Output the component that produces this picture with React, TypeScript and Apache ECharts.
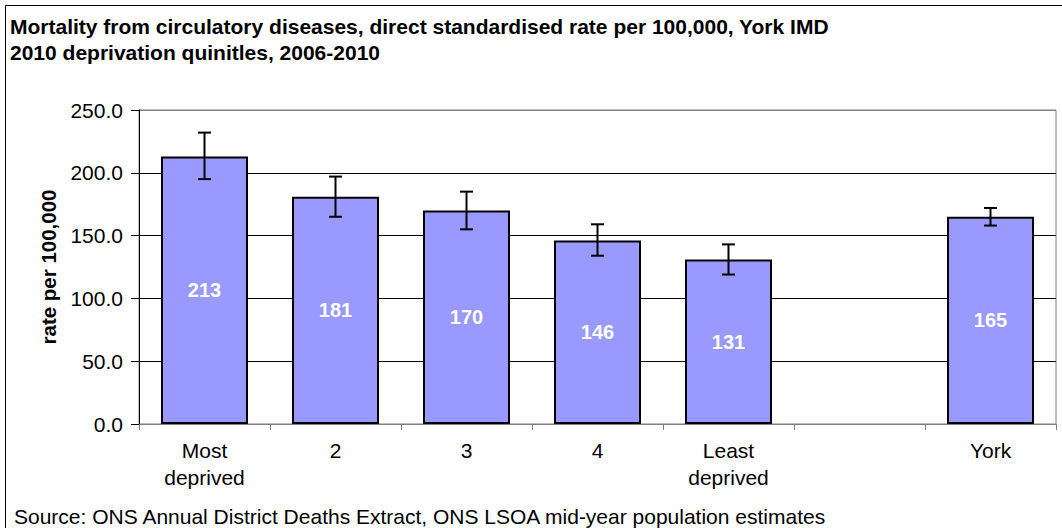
import React, { useEffect, useRef } from "react";
import * as echarts from "echarts";

const categories = ["Most\ndeprived", "2", "3", "4", "Least\ndeprived", "", "York"];
const rates = [213, 181, 170, 146, 131, null, 165];
const lowerCI = [195, 165, 155, 134, 119, null, 158];
const upperCI = [232, 197, 185, 159, 143, null, 172];
const yTicks = { min: 0, max: 250, interval: 50 };

const titleText =
  "Mortality from circulatory diseases, direct standardised rate per 100,000, York IMD\n2010 deprivation quinitles, 2006-2010";
const sourceText =
  "Source: ONS Annual District Deaths Extract, ONS LSOA mid-year population estimates";

const FONT = "'Liberation Sans', Arial, sans-serif";

export default function App() {
  const ref = useRef<HTMLDivElement>(null);
  useEffect(() => {
    if (!ref.current) return;
    const chart = echarts.init(ref.current, null, { renderer: "svg" });
    const errData: any[] = [];
    categories.forEach((_, i) => {
      if (lowerCI[i] != null && upperCI[i] != null) errData.push([i, lowerCI[i], upperCI[i]]);
    });
    chart.setOption({
      animation: false,
      backgroundColor: "#fff",
      textStyle: { fontFamily: FONT },
      title: {
        text: titleText,
        left: 10,
        top: 13,
        padding: 0,
        textStyle: { fontFamily: FONT, fontSize: 21, fontWeight: "bold", color: "#000", lineHeight: 26 },
      },
      graphic: [
        {
          type: "rect",
          shape: { x: 5.5, y: 5.5, width: 1200, height: 700 },
          style: { fill: "none", stroke: "#000", lineWidth: 1 },
          silent: true,
        },
        {
          type: "text",
          x: 14,
          y: 516,
          style: { text: sourceText, fontFamily: FONT, fontSize: 21, fill: "#000", verticalAlign: "middle" },
        },
      ],
      grid: { left: 139, top: 110, right: 6, bottom: 104, show: true, borderColor: "#808080", borderWidth: 1 },
      xAxis: {
        type: "category",
        data: categories,
        axisLine: { lineStyle: { color: "#808080", width: 1 } },
        axisTick: { show: true, length: 6, lineStyle: { color: "#808080" } },
        axisLabel: { color: "#000", fontSize: 21, lineHeight: 27, margin: 13, fontFamily: FONT, interval: 0 },
      },
      yAxis: {
        type: "value",
        min: yTicks.min,
        max: yTicks.max,
        interval: yTicks.interval,
        name: "rate per 100,000",
        nameLocation: "middle",
        nameGap: 80,
        nameTextStyle: { fontFamily: FONT, fontSize: 20.5, fontWeight: "bold", color: "#000" },
        axisLine: { show: true, lineStyle: { color: "#000", width: 1 } },
        axisTick: { show: true, length: 8, lineStyle: { color: "#000" } },
        axisLabel: {
          color: "#000",
          fontSize: 21,
          margin: 16,
          fontFamily: FONT,
          formatter: (v: number) => v.toFixed(1),
        },
        splitLine: {
          show: true,
          lineStyle: { color: ["#000", "#000", "#000", "#000", "#000", "#808080"], width: 1 },
        },
      },
      series: [
        {
          type: "bar",
          data: rates,
          barWidth: 87,
          itemStyle: { color: "#9999FF", borderColor: "#000", borderWidth: 2 },
          label: {
            show: true,
            position: "inside",
            color: "#fff",
            fontSize: 20,
            fontWeight: "bold",
            fontFamily: FONT,
          },
          z: 2,
        },
        {
          type: "custom",
          data: errData,
          z: 5,
          renderItem: (params: any, api: any) => {
            const x = api.value(0);
            const lo = api.coord([x, api.value(1)]);
            const hi = api.coord([x, api.value(2)]);
            const hw = 6.5;
            const style = { stroke: "#000", lineWidth: 2 };
            return {
              type: "group",
              children: [
                { type: "line", shape: { x1: lo[0], y1: lo[1], x2: hi[0], y2: hi[1] }, style },
                { type: "line", shape: { x1: lo[0] - hw, y1: lo[1], x2: lo[0] + hw, y2: lo[1] }, style },
                { type: "line", shape: { x1: hi[0] - hw, y1: hi[1], x2: hi[0] + hw, y2: hi[1] }, style },
              ],
            };
          },
        },
      ],
    });
    return () => chart.dispose();
  }, []);
  return (
    <div
      ref={ref}
      style={{ position: "fixed", left: 0, top: 0, width: 1062, height: 528 }}
    />
  );
}
